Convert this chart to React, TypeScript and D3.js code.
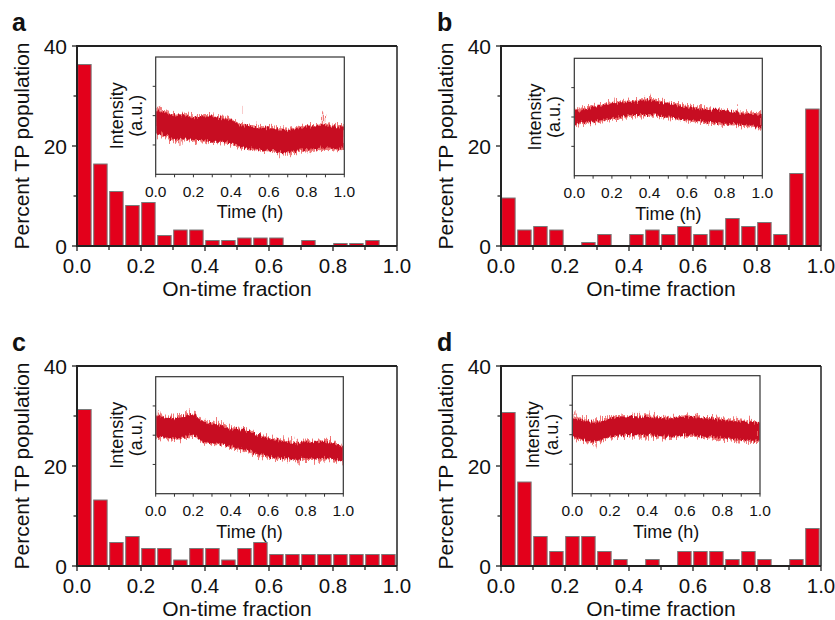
import React from "react";
import * as d3 from "d3";

// ---------- data ----------
const binStarts = [0, 0.05, 0.1, 0.15, 0.2, 0.25, 0.3, 0.35, 0.4, 0.45, 0.5, 0.55, 0.6, 0.65, 0.7, 0.75, 0.8, 0.85, 0.9, 0.95];
const binWidth = 0.05;
const panelLabels = ["a", "b", "c", "d"];

const popA = [36.3, 16.4, 10.9, 8.1, 8.7, 2.1, 3.2, 3.2, 1.1, 1.1, 1.6, 1.6, 1.6, 0, 1.1, 0, 0.5, 0.5, 1.1, 0];
const popB = [9.6, 3.2, 3.9, 3.2, 0, 0.7, 2.3, 0, 2.3, 3.2, 2.3, 3.9, 2.3, 3.2, 5.5, 3.9, 4.7, 2.3, 14.5, 27.4];
const popC = [31.3, 13.2, 4.7, 5.9, 3.5, 3.5, 1.2, 3.5, 3.5, 1.2, 3.5, 4.7, 2.3, 2.3, 2.3, 2.3, 2.3, 2.3, 2.3, 2.3];
const popD = [30.7, 16.8, 5.9, 2.9, 5.9, 5.9, 2.9, 1.3, 0, 1.3, 0, 2.9, 2.9, 2.9, 1.3, 2.9, 1.3, 0, 1.3, 7.5];

const yTicks = [0, 10, 20, 30, 40];
const yTickLabels = [0, 20, 40];
const xTicks = [0, 0.1, 0.2, 0.3, 0.4, 0.5, 0.6, 0.7, 0.8, 0.9, 1.0];
const xTickLabels = [0, 0.2, 0.4, 0.6, 0.8, 1.0];

// inset intensity traces (arbitrary units 0-4), core band upper/lower
const traceTimes = [0, 0.05, 0.1, 0.15, 0.2, 0.25, 0.3, 0.35, 0.4, 0.45, 0.5, 0.55, 0.6, 0.65, 0.7, 0.75, 0.8, 0.85, 0.9, 0.95, 1.0];
const hiA = [2.19, 2.08, 1.97, 2.02, 1.91, 1.97, 1.97, 1.91, 1.85, 1.68, 1.63, 1.6, 1.57, 1.53, 1.51, 1.55, 1.63, 1.63, 1.68, 1.63, 1.63];
const loA = [1.4, 1.34, 1.17, 1.23, 1.17, 1.17, 1.11, 1.11, 1.06, 0.94, 0.89, 0.85, 0.83, 0.76, 0.75, 0.8, 0.83, 0.86, 0.89, 0.86, 0.89];
const hiB = [2.18, 2.27, 2.35, 2.4, 2.47, 2.49, 2.52, 2.55, 2.58, 2.52, 2.47, 2.41, 2.35, 2.3, 2.24, 2.25, 2.24, 2.18, 2.12, 2.1, 2.07];
const loB = [1.78, 1.82, 1.84, 1.9, 1.95, 2.0, 2.07, 2.07, 2.07, 2.05, 2.01, 1.95, 1.9, 1.87, 1.84, 1.8, 1.78, 1.76, 1.73, 1.68, 1.65];
const hiC = [2.69, 2.6, 2.58, 2.62, 2.75, 2.45, 2.4, 2.35, 2.23, 2.2, 2.12, 2.0, 1.89, 1.84, 1.78, 1.72, 1.78, 1.76, 1.78, 1.72, 1.61];
const loC = [1.95, 1.92, 1.89, 1.92, 2.02, 1.78, 1.72, 1.7, 1.61, 1.55, 1.44, 1.35, 1.26, 1.23, 1.21, 1.15, 1.21, 1.2, 1.23, 1.18, 1.09];
const hiD = [2.55, 2.5, 2.44, 2.45, 2.55, 2.62, 2.61, 2.58, 2.61, 2.58, 2.55, 2.57, 2.61, 2.6, 2.55, 2.55, 2.5, 2.47, 2.44, 2.42, 2.4];
const loD = [1.93, 1.85, 1.76, 1.8, 1.93, 1.97, 1.99, 1.98, 2.0, 1.96, 1.93, 1.95, 1.99, 1.97, 1.93, 1.92, 1.88, 1.86, 1.82, 1.8, 1.8];

// isolated noise spikes (time, intensity)
const spikeTA = [0.02, 0.14, 0.38, 0.44, 0.66, 0.89, 0.14];
const spikeVA = [2.36, 2.08, 2.02, 2.3, 0.51, 2.08, 0.94];
const spikeTB = [0.4, 0.87, 0.22];
const spikeVB = [2.68, 2.4, 2.58];
const spikeTC = [0.01, 0.19, 0.77, 0.73];
const spikeVC = [2.85, 2.85, 1.0, 1.95];
const spikeTD = [0.27, 0.42, 0.62, 0.12, 0.01];
const spikeVD = [2.75, 2.75, 2.72, 1.6, 2.75];

const xTimeTicks = [0, 0.1, 0.2, 0.3, 0.4, 0.5, 0.6, 0.7, 0.8, 0.9, 1.0];
const xTimeLabels = [0, 0.2, 0.4, 0.6, 0.8, 1.0];
const yIntTicks = [1, 2, 3];

// ---------- layout ----------
const FONT = "'Liberation Sans', Arial, Helvetica, sans-serif";
const PW = 320;
const PH = 200;
const panels = [
  { label: panelLabels[0], pop: popA, hi: hiA, lo: loA, st: spikeTA, sv: spikeVA, ox: 77, oy: 46, ix: 155.7, iy: 57, iw: 188.6, ih: 117.3, lx: 12, ly: 31 },
  { label: panelLabels[1], pop: popB, hi: hiB, lo: loB, st: spikeTB, sv: spikeVB, ox: 501, oy: 46, ix: 574.3, iy: 58.3, iw: 188, ih: 117.4, lx: 437, ly: 31 },
  { label: panelLabels[2], pop: popC, hi: hiC, lo: loC, st: spikeTC, sv: spikeVC, ox: 77, oy: 366, ix: 155.7, iy: 376.7, iw: 187.6, ih: 117, lx: 12, ly: 351 },
  { label: panelLabels[3], pop: popD, hi: hiD, lo: loD, st: spikeTD, sv: spikeVD, ox: 501, oy: 366, ix: 572.3, iy: 375.7, iw: 187.7, ih: 118, lx: 437, ly: 351 },
];

const fmt = d3.format(".1f");

function Panel({ p, idx }: { p: any; idx: number }) {
  const x = d3.scaleLinear().domain([0, 1]).range([p.ox, p.ox + PW]);
  const y = d3.scaleLinear().domain([0, 40]).range([p.oy + PH, p.oy]);
  const tx = d3.scaleLinear().domain([0, 1]).range([p.ix, p.ix + p.iw]);
  const ty = d3.scaleLinear().domain([0, 4]).range([p.iy + p.ih, p.iy]);
  const bw = x(binWidth) - x(0);
  const band = d3
    .area<number>()
    .x((_, i) => tx(traceTimes[i]))
    .y0((_, i) => ty(p.lo[i]))
    .y1((d) => ty(d))
    .curve(d3.curveLinear);
  const bottom = p.oy + PH;
  const ibottom = p.iy + p.ih;
  const icy = p.iy + p.ih / 2;
  const clipId = "clip" + idx;
  return (
    <g>
      <defs>
        <clipPath id={clipId}>
          <rect x={p.ix + 0.6} y={p.iy + 0.6} width={p.iw - 1.2} height={p.ih - 1.2} />
        </clipPath>
      </defs>
      {/* panel label */}
      <text x={p.lx} y={p.ly} fontFamily={FONT} fontWeight="bold" fontSize={25} fill="#111">
        {p.label}
      </text>
      {/* bars */}
      {p.pop.map((v: number, i: number) =>
        v > 0 ? (
          <rect
            key={i}
            x={x(binStarts[i]) + 0.7}
            y={y(v)}
            width={bw * 0.84}
            height={y(0) - y(v)}
            fill="#e3001b"
            stroke="#7a7a7a"
            strokeWidth={1}
          />
        ) : null
      )}
      {/* frame */}
      <line x1={p.ox} x2={p.ox + PW} y1={p.oy} y2={p.oy} stroke="#222" strokeWidth={2} />
      <line x1={p.ox + PW} x2={p.ox + PW} y1={p.oy} y2={bottom} stroke="#222" strokeWidth={1.5} />
      <line x1={p.ox} x2={p.ox} y1={p.oy - 1} y2={bottom + 1} stroke="#222" strokeWidth={2} />
      <line x1={p.ox - 1} x2={p.ox + PW} y1={bottom} y2={bottom} stroke="#222" strokeWidth={2} />
      {/* y ticks */}
      {yTicks.map((t) => (
        <line key={t} x1={p.ox - (t % 20 === 0 ? 5 : 3.5)} x2={p.ox} y1={y(t)} y2={y(t)} stroke="#222" strokeWidth={1.3} />
      ))}
      {yTickLabels.map((t) => (
        <text key={t} x={p.ox - 10} y={y(t)} dy="0.36em" textAnchor="end" fontFamily={FONT} fontSize={21} fill="#111">
          {t}
        </text>
      ))}
      {/* x ticks */}
      {xTicks.map((t, i) => (
        <line key={t} x1={x(t)} x2={x(t)} y1={bottom} y2={bottom + (i % 2 === 0 ? 5 : 4)} stroke="#222" strokeWidth={1.3} />
      ))}
      {xTickLabels.map((t) => (
        <text key={t} x={x(t)} y={bottom + 27} textAnchor="middle" fontFamily={FONT} fontSize={20.5} fill="#111">
          {fmt(t)}
        </text>
      ))}
      <text x={p.ox + PW / 2} y={bottom + 49.5} textAnchor="middle" fontFamily={FONT} fontSize={21} fill="#111">
        On-time fraction
      </text>
      <text
        transform={`translate(${p.ox - 48},${p.oy + PH / 2}) rotate(-90)`}
        textAnchor="middle"
        fontFamily={FONT}
        fontSize={21}
        fill="#111"
      >
        Percent TP population
      </text>

      {/* inset */}
      <rect x={p.ix} y={p.iy} width={p.iw} height={p.ih} fill="#fff" stroke="none" />
      <g clipPath={`url(#${clipId})`}>
        <g filter="url(#noiseOuter)">
          {p.st.map((t: number, i: number) => {
            const j = Math.round(t / 0.05);
            const base = p.sv[i] > p.hi[j] ? p.hi[j] : p.lo[j];
            return (
              <line key={"s" + i} x1={tx(t)} x2={tx(t)} y1={ty(base)} y2={ty(p.sv[i])} stroke="#f07a7a" strokeWidth={1.4} />
            );
          })}
          <path d={band(p.hi) || ""} fill="#ec5c5c" stroke="#f07878" strokeWidth={3} strokeLinejoin="round" />
        </g>
        <g filter="url(#noiseInner)">
          <path d={band(p.hi) || ""} fill="#c70f24" stroke="none" />
        </g>
      </g>
      <rect x={p.ix} y={p.iy} width={p.iw} height={p.ih} fill="none" stroke="#333" strokeWidth={1.2} />
      {xTimeTicks.map((t) => (
        <line key={"it" + t} x1={tx(t)} x2={tx(t)} y1={ibottom} y2={ibottom + 3} stroke="#333" strokeWidth={1} />
      ))}
      {yIntTicks.map((t) => (
        <line key={"iy" + t} x1={p.ix - 3} x2={p.ix} y1={ty(t)} y2={ty(t)} stroke="#333" strokeWidth={1} />
      ))}
      {xTimeLabels.map((t) => (
        <text key={"il" + t} x={tx(t)} y={ibottom + 22.5} textAnchor="middle" fontFamily={FONT} fontSize={15.5} fill="#111">
          {fmt(t)}
        </text>
      ))}
      <text x={p.ix + p.iw / 2} y={ibottom + 44} textAnchor="middle" fontFamily={FONT} fontSize={18} fill="#111">
        Time (h)
      </text>
      <text transform={`translate(${p.ix - 33},${icy}) rotate(-90)`} textAnchor="middle" fontFamily={FONT} fontSize={18} fill="#111">
        Intensity
      </text>
      <text transform={`translate(${p.ix - 14},${icy}) rotate(-90)`} textAnchor="middle" fontFamily={FONT} fontSize={18} fill="#111">
        (a.u.)
      </text>
    </g>
  );
}

export default function App() {
  return (
    <svg width={835} height={620} style={{ position: "absolute", left: 0, top: 0, background: "#fff" }}>
      <defs>
        <filter id="noiseOuter" x="-10%" y="-60%" width="120%" height="220%" filterUnits="objectBoundingBox">
          <feTurbulence type="fractalNoise" baseFrequency="0.85 0.04" numOctaves={2} seed={7} result="n" />
          <feDisplacementMap in="SourceGraphic" in2="n" scale={14} xChannelSelector="B" yChannelSelector="G" />
        </filter>
        <filter id="noiseInner" x="-10%" y="-60%" width="120%" height="220%" filterUnits="objectBoundingBox">
          <feTurbulence type="fractalNoise" baseFrequency="0.7 0.05" numOctaves={2} seed={3} result="n" />
          <feDisplacementMap in="SourceGraphic" in2="n" scale={8} xChannelSelector="B" yChannelSelector="G" />
        </filter>
      </defs>
      <rect width={835} height={620} fill="#fff" />
      {panels.map((p, i) => (
        <Panel key={p.label} p={p} idx={i} />
      ))}
    </svg>
  );
}
